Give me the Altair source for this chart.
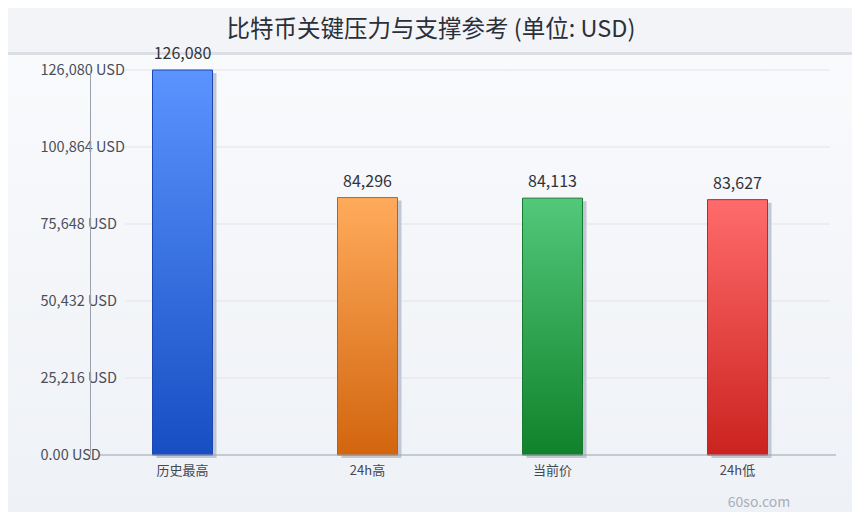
import altair as alt
import pandas as pd

categories = ["历史最高", "24h高", "当前价", "24h低"]
values = [126080, 84296, 84113, 83627]
value_labels = ["126,080", "84,296", "84,113", "83,627"]
top_colors = ["#5b94ff", "#ffab5c", "#52c87a", "#ff6b6b"]
bottom_colors = ["#174ec2", "#d2650e", "#11822b", "#cb231f"]
stroke_colors = ["#1d47b0", "#c0600f", "#187a30", "#b52a2a"]
tick_values = [0, 25216, 50432, 75648, 100864, 126080]
title_text = "比特币关键压力与支撑参考 (单位: USD)"
watermark = "60so.com"

FONT = "Noto Sans CJK SC"
W, H = 740, 385
PAD = {"left": 82, "top": 62, "right": 22, "bottom": 57}

df = pd.DataFrame({"cat": categories, "value": values, "label": value_labels})
ticks_df = pd.DataFrame({"value": tick_values[1:]})
one = alt.Data(values=[{}])

x_enc = alt.X("cat:N", sort=categories,
              scale=alt.Scale(paddingInner=0, paddingOuter=0),
              axis=alt.Axis(title=None, domain=False, ticks=False, labelAngle=0,
                            labelFont=FONT, labelFontSize=13, labelColor="#444851",
                            labelPadding=9, zindex=1))
y_scale = alt.Scale(domain=[0, 126080], nice=False, zero=True)
y_axis = alt.Axis(title=None, values=tick_values, grid=False, ticks=False,
                  tickSize=0, labelPadding=50, labelAlign="left",
                  labelExpr="datum.value == 0 ? '0.00 USD' : format(datum.value, ',') + ' USD'",
                  labelFont=FONT, labelFontSize=14.5, labelColor="#4a4f5a",
                  domainColor="#9aa0ad", domainWidth=1, zindex=1)
y_enc = alt.Y("value:Q", scale=y_scale, axis=y_axis)

def grad(top, bottom):
    return {"gradient": "linear", "x1": 0, "y1": 0, "x2": 0, "y2": 1,
            "stops": [{"offset": 0, "color": top}, {"offset": 1, "color": bottom}]}

bg = alt.Chart(one).mark_rect(fill=grad("#fafbfd", "#eef1f6")).encode(
    x=alt.value(-82), x2=alt.value(762), y=alt.value(-62), y2=alt.value(442))
band = alt.Chart(one).mark_rect(fill="#f3f4f8").encode(
    x=alt.value(-82), x2=alt.value(762), y=alt.value(-62), y2=alt.value(-18))
sep = alt.Chart(one).mark_rule(color="#dcdee6", strokeWidth=3).encode(
    x=alt.value(-82), x2=alt.value(762), y=alt.value(-16.5))

grid = alt.Chart(ticks_df).mark_rule(color="#e0e3eb", strokeWidth=1).encode(
    y=y_enc, x=alt.value(35), x2=alt.value(740))

base = alt.Chart(df)
shadow = base.mark_bar(width=60, color="#c2c7d4", xOffset=4, yOffset=3).encode(
    x=x_enc, y=y_enc)

bar_layers = []
for i, c in enumerate(categories):
    bar_layers.append(
        base.transform_filter(alt.datum.cat == c).mark_bar(
            width=60, color=grad(top_colors[i], bottom_colors[i]),
            stroke=stroke_colors[i], strokeWidth=1).encode(x=x_enc, y=y_enc))

baseline = alt.Chart(one).mark_rule(color="#9aa0ad", strokeWidth=1.2).encode(
    y=alt.value(H), x=alt.value(10), x2=alt.value(746))

labels = base.mark_text(font=FONT, fontSize=16, color="#30333b", dy=-16,
                        baseline="middle").encode(x=x_enc, y=y_enc, text="label:N")

title = alt.Chart(alt.Data(values=[{"t": title_text}])).mark_text(
    font=FONT, fontSize=23.5, color="#2b2f38", baseline="middle", align="center").encode(
    x=alt.value(341), y=alt.value(-40), text="t:N")

wm = alt.Chart(alt.Data(values=[{"t": watermark}])).mark_text(
    font=FONT, fontSize=14, color="#a9aebb", baseline="middle", align="center").encode(
    x=alt.value(669), y=alt.value(433), text="t:N")

chart = alt.layer(bg, band, sep, grid, shadow, *bar_layers, baseline, labels, title, wm).properties(
    width=W, height=H, padding=PAD, autosize=alt.AutoSizeParams(type="none"),
    background="#f4f5f9"
).configure_view(stroke=None)

chart.save("out.html", embed_options={"renderer": "svg", "actions": False})
